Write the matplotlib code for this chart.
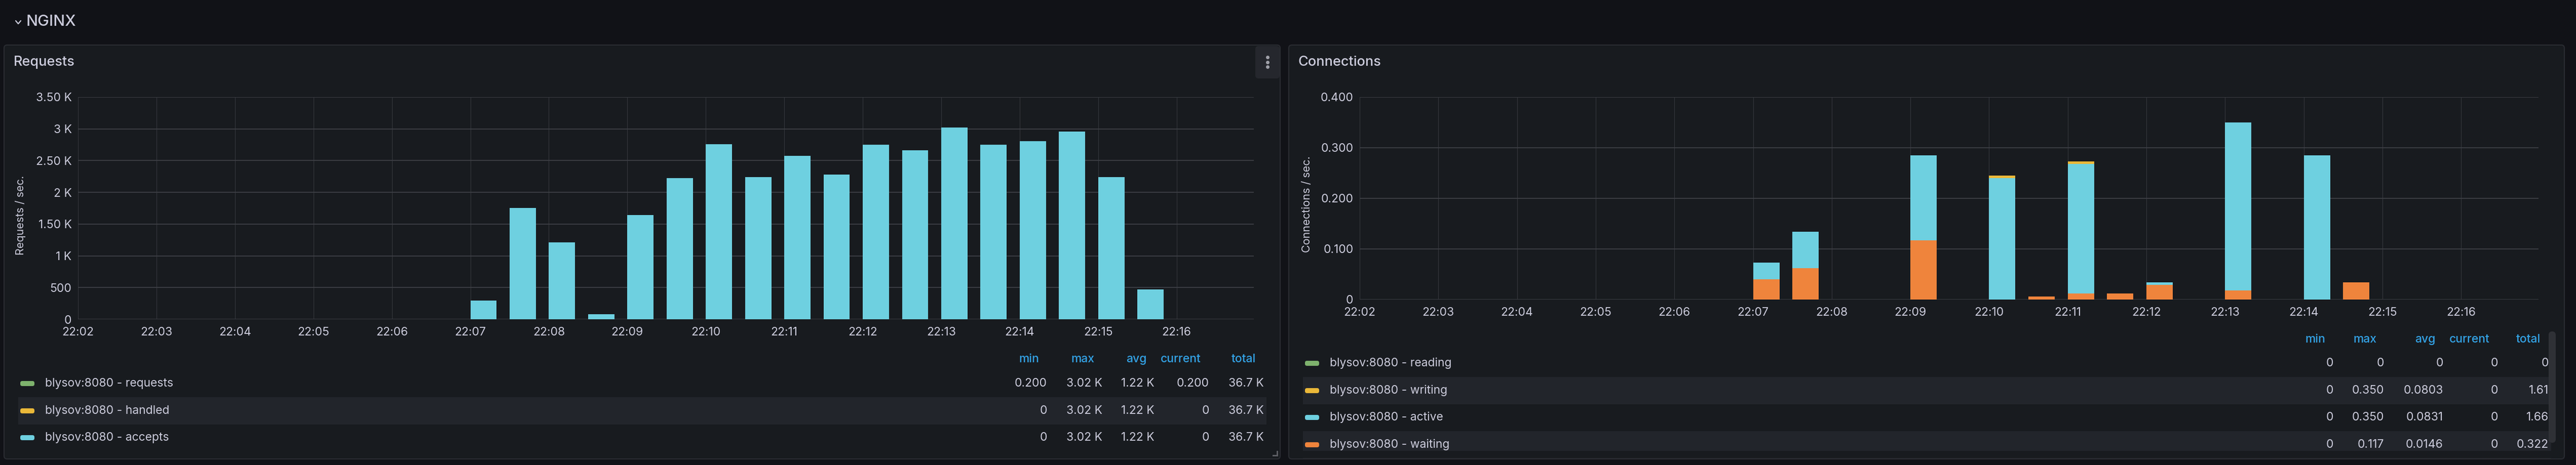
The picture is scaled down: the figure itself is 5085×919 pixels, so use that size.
import matplotlib
matplotlib.use("Agg")
import matplotlib.pyplot as plt
import matplotlib.dates as mdates
from matplotlib.patches import FancyBboxPatch, Polygon
from matplotlib.ticker import FixedLocator, FuncFormatter
import pandas as pd

plt.rcParams["font.family"] = ["Inter", "DejaVu Sans"]

# 画布尺寸（像素）
W, H = 5085, 919
DPI = 100

BG = "#111217"
PANEL = "#181b1f"
BORDER = "#2a2c32"
TEXT = "#ccccdc"
HEAD = "#33a2e5"
ROW_HL = "#22252b"
GREEN, YELLOW, BLUE, ORANGE = "#7eb26d", "#eab839", "#6ed0e0", "#ef843c"

# ---- 数据 ----
times = pd.date_range("2024-01-01 22:02:00", periods=30, freq="30s")

requests = [0, 0, 0, 0, 0, 0, 0, 0, 0, 0,
            292, 1755, 1213, 80, 1643, 2228, 2756, 2243, 2578, 2278,
            2751, 2666, 3024, 2751, 2809, 2960, 2241, 467, 0, 0.2]
handled = [0, 0, 0, 0, 0, 0, 0, 0, 0, 0,
           292, 1755, 1213, 80, 1643, 2228, 2756, 2243, 2578, 2278,
           2751, 2666, 3024, 2751, 2809, 2960, 2241, 467, 0, 0]
accepts = [0, 0, 0, 0, 0, 0, 0, 0, 0, 0,
           292, 1755, 1213, 80, 1643, 2228, 2756, 2243, 2578, 2278,
           2751, 2666, 3024, 2751, 2809, 2960, 2241, 467, 0, 0]

reading = [0, 0, 0, 0, 0, 0, 0, 0, 0, 0,
           0, 0, 0, 0, 0, 0, 0, 0, 0, 0,
           0, 0, 0, 0, 0, 0, 0, 0, 0, 0]
writing = [0, 0, 0, 0, 0, 0, 0, 0, 0, 0,
           0, 0.134, 0, 0, 0.283, 0, 0.245, 0, 0.273, 0,
           0.034, 0, 0.350, 0, 0.283, 0, 0, 0, 0, 0]
active = [0, 0, 0, 0, 0, 0, 0, 0, 0, 0,
          0.073, 0.134, 0, 0, 0.285, 0, 0.240, 0, 0.268, 0,
          0.034, 0, 0.350, 0, 0.285, 0, 0, 0, 0, 0]
waiting = [0, 0, 0, 0, 0, 0, 0, 0, 0, 0,
           0.040, 0.062, 0, 0, 0.117, 0, 0, 0.006, 0.012, 0.012,
           0.029, 0, 0.018, 0, 0, 0.034, 0, 0, 0, 0]

stat_names = ["min", "max", "avg", "current", "total"]
req_labels = ["blysov:8080 - requests", "blysov:8080 - handled", "blysov:8080 - accepts"]
req_stats = [["0.200", "3.02 K", "1.22 K", "0.200", "36.7 K"],
             ["0", "3.02 K", "1.22 K", "0", "36.7 K"],
             ["0", "3.02 K", "1.22 K", "0", "36.7 K"]]
conn_labels = ["blysov:8080 - reading", "blysov:8080 - writing",
               "blysov:8080 - active", "blysov:8080 - waiting"]
conn_stats = [["0", "0", "0", "0", "0"],
              ["0", "0.350", "0.0803", "0", "1.61"],
              ["0", "0.350", "0.0831", "0", "1.66"],
              ["0", "0.117", "0.0146", "0", "0.322"]]

fig = plt.figure(figsize=(W / DPI, H / DPI), dpi=DPI, facecolor=BG)

# 背景坐标系：以像素为单位，y 轴向下
bg = fig.add_axes([0, 0, 1, 1], zorder=0)
bg.set_xlim(0, W)
bg.set_ylim(H, 0)
bg.axis("off")


def rbox(x0, y0, x1, y1, fc, ec="none", r=6, lw=0, z=1):
    p = FancyBboxPatch((x0, y0), x1 - x0, y1 - y0,
                       boxstyle=f"round,pad=0,rounding_size={r}",
                       fc=fc, ec=ec, lw=lw, zorder=z)
    bg.add_patch(p)


# 行标题
bg.plot([31, 36, 41], [41, 47, 41], color=TEXT, lw=1.6, solid_capstyle="round")
bg.text(51, 43, "NGINX", fontsize=22, color=TEXT, va="center", ha="left", fontweight="medium")

# 两个面板
rbox(8, 89, 2527, 907, PANEL, BORDER, r=6, lw=1.5)
rbox(2544, 89, 5062, 907, PANEL, BORDER, r=6, lw=1.5)
bg.text(27, 123, "Requests", fontsize=19.5, color=TEXT, va="center", fontweight="medium")
bg.text(2562, 123, "Connections", fontsize=19.5, color=TEXT, va="center", fontweight="medium")

# 菜单按钮
rbox(2478, 91, 2526, 155, "#25272d", r=6)
bg.plot([2502, 2502, 2502], [113, 123, 132], "o", ms=4, color="#9fa0a8", zorder=3)
# 缩放角标
bg.add_patch(Polygon([[2512, 902], [2523, 902], [2523, 891], [2520, 891],
                      [2520, 899], [2512, 899]], closed=True, fc="#5b5c62", zorder=3))

# y 轴标签
bg.text(41, 425, "Requests / sec.", rotation=90, fontsize=15.5, color=TEXT,
        ha="center", va="center")
bg.text(2580, 404, "Connections / sec.", rotation=90, fontsize=15.5, color=TEXT,
        ha="center", va="center")


def px_axes(x0, y0, x1, y1):
    return fig.add_axes([x0 / W, 1 - y1 / H, (x1 - x0) / W, (y1 - y0) / H], zorder=2)


bar_w = 0.335 / 1440  # 单位：天
t0 = times[0]
t1 = times[0] + pd.Timedelta(seconds=899)


def style_axes(ax, ymax, step, fmt):
    ax.set_facecolor("none")
    for s in ax.spines.values():
        s.set_visible(False)
    ax.set_xlim(t0, t1)
    ax.set_ylim(0, ymax)
    ax.xaxis.set_major_locator(mdates.MinuteLocator())
    ax.xaxis.set_major_formatter(mdates.DateFormatter("%H:%M"))
    ax.yaxis.set_major_locator(FixedLocator([i * step for i in range(int(round(ymax / step)) + 1)]))
    ax.yaxis.set_major_formatter(FuncFormatter(fmt))
    ax.tick_params(axis="both", length=0, colors=TEXT, labelsize=16.5)
    ax.tick_params(axis="x", pad=11)
    ax.tick_params(axis="y", pad=9)
    ax.set_axisbelow(True)
    ax.yaxis.grid(True, color="#3e4046", lw=1.3)
    ax.xaxis.grid(True, color="#36383e", lw=0.8)


def kfmt(v, _):
    if v == 0:
        return "0"
    if v < 1000:
        return f"{v:.0f}"
    k = v / 1000
    return f"{k:.0f} K" if k == int(k) else f"{k:.2f} K"


def cfmt(v, _):
    return "0" if v == 0 else f"{v:.3f}"


# 左图：Requests
ax1 = px_axes(154, 192, 2475, 631)
style_axes(ax1, 3500, 500, kfmt)
ax1.bar(times, requests, width=bar_w, align="edge", color=GREEN, lw=0)
ax1.bar(times, handled, width=bar_w, align="edge", color=YELLOW, lw=0)
ax1.bar(times, accepts, width=bar_w, align="edge", color=BLUE, lw=0)

# 右图：Connections
ax2 = px_axes(2684, 192, 5011, 592)
style_axes(ax2, 0.4, 0.1, cfmt)
ax2.bar(times, reading, width=bar_w, align="edge", color=GREEN, lw=0)
ax2.bar(times, writing, width=bar_w, align="edge", color=YELLOW, lw=0)
ax2.bar(times, active, width=bar_w, align="edge", color=BLUE, lw=0)
ax2.bar(times, waiting, width=bar_w, align="edge", color=ORANGE, lw=0)


def legend(x_sw, x_txt, y_head, rows_y, labels, colors, stats, head_x, val_x, hl_rows, hl_x):
    for i in hl_rows:
        y = rows_y[i]
        bg.add_patch(plt.Rectangle((hl_x[0], y - 27), hl_x[1] - hl_x[0], 54,
                                   fc=ROW_HL, ec="none", zorder=1))
    for name, x in zip(stat_names, head_x):
        bg.text(x, y_head, name, fontsize=16.5, color=HEAD, ha="right", va="center",
                fontweight="medium", zorder=4)
    for y, lab, c, vals in zip(rows_y, labels, colors, stats):
        rbox(x_sw, y - 5, x_sw + 28, y + 5, c, r=4, z=4)
        bg.text(x_txt, y, lab, fontsize=16.5, color=TEXT, va="center", zorder=4)
        for v, x in zip(vals, val_x):
            bg.text(x, y, v, fontsize=16.5, color=TEXT, ha="right", va="center", zorder=4)


legend(40, 89, 710, [758, 812, 865], req_labels, [GREEN, YELLOW, BLUE], req_stats,
       [2051, 2160, 2263, 2371, 2479], [2067, 2176, 2279, 2387, 2495],
       [1], (36, 2500))
legend(2576, 2625, 671, [718, 772, 825, 879], conn_labels, [GREEN, YELLOW, BLUE, ORANGE],
       conn_stats, [4590, 4691, 4807, 4915, 5015], [4606, 4706, 4823, 4931, 5031],
       [1, 3], (2572, 5036))
# 遮住被滚动裁剪的部分
bg.add_patch(plt.Rectangle((2560, 891), 2490, 14, fc=PANEL, ec="none", zorder=5))
# 滚动条
rbox(5031, 655, 5045, 875, "#2f3136", r=7, z=6)

fig.savefig("out.png", dpi=DPI, facecolor=BG)
